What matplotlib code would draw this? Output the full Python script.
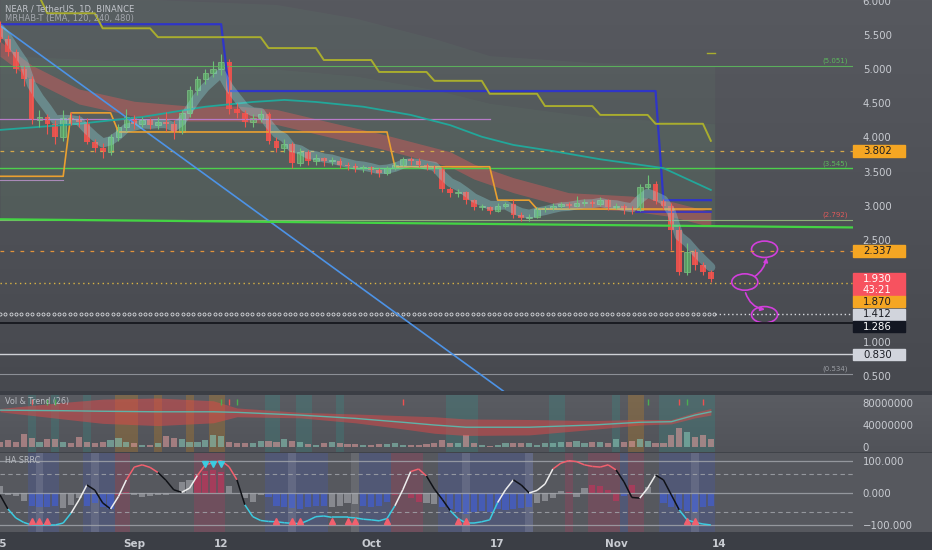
import numpy as np
import matplotlib.pyplot as plt
from matplotlib.patches import Rectangle, Ellipse, FancyArrowPatch
from matplotlib.collections import LineCollection
from matplotlib.transforms import blended_transform_factory

# ---- daily candles, day 0 = Aug 15 ----
first_open = 5.62
closes = [5.45, 5.25, 5.00, 4.85, 4.26, 4.30, 4.20, 4.00, 4.28, 4.25,
          4.22, 3.93, 3.85, 3.78, 4.00, 4.15, 4.30, 4.20, 4.25, 4.18,
          4.22, 4.20, 4.08, 4.36, 4.70, 4.85, 4.95, 5.00, 5.10, 4.42,
          4.36, 4.22, 4.28, 4.35, 3.95, 3.85, 3.90, 3.62, 3.78, 3.65,
          3.70, 3.65, 3.66, 3.60, 3.58, 3.55, 3.56, 3.52, 3.48, 3.55,
          3.60, 3.68, 3.66, 3.60, 3.56, 3.55, 3.25, 3.18, 3.20, 3.08,
          2.98, 2.98, 2.92, 3.00, 3.02, 2.86, 2.82, 2.84, 2.95, 2.96,
          3.00, 3.02, 3.00, 3.04, 3.05, 3.03, 3.08, 2.98, 3.00, 2.95,
          2.94, 3.28, 3.32, 3.07, 3.00, 2.64, 2.03, 2.32, 2.13, 2.03,
          1.93]
highs = [5.70, 5.50, 5.30, 5.05, 4.90, 4.40, 4.35, 4.25, 4.40, 4.38,
         4.33, 4.28, 3.98, 3.92, 4.05, 4.20, 4.42, 4.33, 4.30, 4.28,
         4.30, 4.38, 4.26, 4.40, 4.75, 4.90, 5.00, 5.12, 5.22, 5.15,
         4.50, 4.40, 4.35, 4.40, 4.38, 4.00, 3.98, 3.94, 3.85, 3.82,
         3.75, 3.72, 3.72, 3.70, 3.64, 3.62, 3.60, 3.58, 3.55, 3.58,
         3.64, 3.72, 3.72, 3.70, 3.63, 3.60, 3.57, 3.28, 3.25, 3.22,
         3.10, 3.03, 3.00, 3.04, 3.06, 3.10, 2.90, 2.88, 2.98, 3.00,
         3.04, 3.06, 3.05, 3.14, 3.10, 3.08, 3.12, 3.10, 3.04, 3.02,
         3.00, 3.32, 3.45, 3.36, 3.10, 3.04, 2.70, 2.45, 2.36, 2.18,
         2.06]
lows = [5.40, 5.20, 4.95, 4.75, 4.20, 4.15, 4.05, 3.90, 3.95, 4.18,
        4.15, 3.90, 3.78, 3.70, 3.74, 3.95, 4.10, 4.12, 4.15, 4.12,
        4.12, 4.10, 3.98, 4.05, 4.30, 4.62, 4.78, 4.88, 4.92, 4.35,
        4.28, 4.15, 4.15, 4.22, 3.90, 3.78, 3.78, 3.55, 3.58, 3.60,
        3.60, 3.58, 3.60, 3.55, 3.52, 3.50, 3.50, 3.46, 3.42, 3.45,
        3.52, 3.58, 3.60, 3.56, 3.52, 3.48, 3.20, 3.12, 3.12, 3.02,
        2.94, 2.93, 2.88, 2.90, 2.96, 2.82, 2.77, 2.78, 2.82, 2.90,
        2.93, 2.97, 2.96, 2.98, 3.00, 2.98, 3.00, 2.94, 2.95, 2.88,
        2.88, 2.92, 3.24, 3.02, 2.95, 2.35, 1.98, 1.98, 2.05, 1.98,
        1.88]
volume_m = [9.7, 12.7, 9.7, 23.6, 15.7, 9.7, 14, 14, 9.7, 8,
            18.8, 9.7, 6.7, 9.7, 12.7, 15.7, 9.7, 6.7, 3.6, 3.6,
            6.7, 20, 15.7, 14, 9.7, 9.7, 12.7, 21.8, 20, 9.7,
            8, 6.7, 8, 11, 11, 9.7, 14, 11.5, 9.7, 5,
            3.6, 6.7, 9.7, 6.7, 5, 5.5, 3.6, 4.5, 5, 5.5,
            6.7, 3.6, 3.6, 3.6, 5, 8, 12.7, 6.7, 6.7, 21.8,
            6.7, 3.6, 2.5, 3.6, 6.7, 6.7, 6.7, 6.7, 3.6, 6.7,
            6.7, 9.7, 9.7, 11.5, 8, 9.7, 8.5, 8, 15, 9.7,
            11, 14, 11.5, 8, 8, 21.8, 34, 26.7, 17.6, 21.8,
            15]
osc = [-6, -50, -78, -92, -100, -100, -100, -100, -94, -63,
       -22, 25, 9, -31, -50, -11, 41, 81, 88, 80,
       64, 40, 10, 2, 15, 55, 88, 95, 101, 82,
       41, -37, -74, -86, -89, -90, -93, -95, -96, -86,
       -74, -72, -76, -76, -76, -78, -82, -84, -87, -80,
       -40, 10, 67, 75, 53, 12, -20, -55, -80, -94,
       -94, -90, -84, -30, 10, 41, 25, 0, 8, 28,
       75, 93, 101, 98, 88, 83, 81, 88, 72, 35,
       -14, -16, 15, 56, 41, -6, -53, -84, -92, -97,
       -100]
hist = [23, -5, -10, -25, -40, -45, -45, -42, -47, -37,
        -15, -40, -30, -45, -50, -5, 2, -5, -12, -10,
        -7, -5, 0, 35, 40, 55, 70, 72, 65, 23,
        0, -15, -28, -5, -12, -40, -45, -48, -50, -45,
        -42, -40, -45, -40, -30, -35, -40, -45, -42, -28,
        -5, 0, -15, -28, -32, -35, -45, -50, -60, -65,
        -60, -55, -60, -50, -52, -50, -48, -45, -30, -25,
        -15, 5, 3, -12, 15, 25, 23, 8, -25, -10,
        25, 0, 20, 0, -32, -45, -50, -55, -60, -45,
        -40]
osc_blue = [(4, 7), (11, 14), (34, 41), (46, 49), (56, 67), (79, 79), (84, 90)]
osc_red = [(15, 16), (25, 28), (50, 53), (72, 72), (75, 78), (80, 81)]
osc_light = [5, 12, 37, 45, 59, 67, 88]
tri_up_days = [4, 5, 6, 35, 37, 38, 42, 44, 45, 49, 58, 59, 87, 88]
tri_down_days = [26, 27, 28]

vol_stripes = [(3.5, 4.5, 't'), (6.5, 7.5, 't'), (10.5, 11.5, 't'), (14.5, 17.5, 'o'),
               (19.5, 20.5, 'o'), (23.5, 24.5, 'o'), (26.5, 28.5, 'o'), (33.5, 35.5, 't'),
               (37.5, 39.5, 't'), (42.5, 43.5, 't'), (56.5, 60.5, 't'), (69.5, 71.5, 't'),
               (77.5, 78.5, 't'), (79.5, 81.5, 'o'), (83.5, 90.5, 't')]
vol_trend_days = [0, 8, 13, 20, 27, 30, 38, 45, 51, 55, 59, 67, 75, 81, 85, 88, 90]
vol_trend = [67, 66, 65, 64, 64, 63, 58, 52, 45, 40, 36, 36, 40, 45, 46, 58, 64]
vol_band = [3, 15, 22, 25, 20, 8, 5, 8, 12, 15, 15, 14, 8, 5, 4, 5, 6]
vol_ticks_green = [6, 7, 28, 30, 82, 87]
vol_ticks_red = [4, 29, 51, 86, 89]

# step lines (start day, level)
blue_start = [0, 29, 84]
blue_level = [5.66, 4.68, 3.08]
olive_start = [0, 6, 13, 20, 34, 41, 48, 55, 62, 69, 76, 83, 90]
olive_level = [6.06, 5.82, 5.60, 5.47, 5.31, 5.135, 4.96, 4.83, 4.64, 4.46, 4.33, 4.20, 3.95]
orange_start = [0, 9, 15, 50, 63, 68]
orange_level = [3.43, 4.36, 4.08, 3.57, 3.08, 2.95]

# slow teal line and red ribbon (read points)
teal_days = [0, 10, 18, 26, 32, 36, 40, 46, 52, 57, 61, 65, 70, 76, 84, 90]
teal_vals = [4.11, 4.20, 4.30, 4.45, 4.52, 4.55, 4.52, 4.45, 4.33, 4.18, 4.01, 3.89, 3.80, 3.68, 3.55, 3.23]
red_days = [0, 4, 10, 17, 24, 30, 35, 43, 48, 53, 57, 60, 65, 72, 80, 85, 90]
red_vals = [5.30, 4.95, 4.60, 4.42, 4.35, 4.35, 4.30, 4.08, 3.95, 3.80, 3.68, 3.50, 3.30, 3.08, 3.03, 2.95, 2.80]

# green cloud above the trend line
cloud_days = [0, 20, 35, 45, 55, 62, 75, 90.5]
cloud_top = [6.02, 6.02, 5.95, 5.75, 5.45, 5.20, 5.10, 5.05]
cloud_mid = [5.20, 5.10, 5.00, 4.90, 4.70, 4.50, 4.30, 4.20]
cloud_bot = [2.80, 2.78, 2.76, 2.75, 2.74, 2.73, 2.72, 2.70]

levels = {'fib_5051': 5.051, 'fib_3545': 3.545, 'fib_2792': 2.792, 'fib_0534': 0.534,
          'res_3802': 3.802, 'res_2337': 2.337, 'sup_1870': 1.870, 'sup_1412': 1.412,
          'sup_1286': 1.286, 'sup_0830': 0.830, 'violet': 4.27}
diag_a, diag_b = (0, 5.64), (50.3, 1.41)
trend_a, trend_b = (0, 2.80), (108, 2.68)

tick_days = [0, 17, 28, 47, 63, 78, 91]
tick_names = ['15', 'Sep', '12', 'Oct', '17', 'Nov', '14']

# ---------------------------------------------------------------
n = len(closes)
days = np.arange(n)
opens = [first_open] + closes[:-1]


def steps(starts, vals):
    out = np.zeros(n)
    for s, v in zip(starts, vals):
        out[s:] = v
    return out


def ema(vals, length, seed):
    k = 2.0 / (length + 1)
    e, out = seed, []
    for v in vals:
        e = e + k * (v - e)
        out.append(e)
    return np.array(out)


def hex_rgb(h):
    h = h.lstrip('#')
    return np.array([int(h[i:i + 2], 16) / 255 for i in (0, 2, 4)])


fig = plt.figure(figsize=(9.32, 5.5), dpi=100)
fig.patch.set_facecolor('#3b3e45')

# background bands
img = np.zeros((550, 1, 3))
for py in range(550):
    if py < 391:
        t = py / 391
        c = hex_rgb('#57595f') * (1 - t) + hex_rgb('#47494f') * t
    elif py < 395:
        c = hex_rgb('#3b3e45')
    elif py < 452:
        t = (py - 395) / 57
        c = hex_rgb('#5a5c62') * (1 - t) + hex_rgb('#515359') * t
    elif py < 453:
        c = hex_rgb('#404349')
    elif py < 532:
        c = hex_rgb('#56585e')
    else:
        c = hex_rgb('#3b3e45')
    img[py, 0] = c
bg = fig.add_axes([0, 0, 1, 1], zorder=-10)
bg.imshow(img, aspect='auto', extent=(0, 1, 0, 1))
bg.axis('off')

XL = (0, 108)
ax = fig.add_axes([0, 1 - 391 / 550, 853 / 932, 391 / 550])
axv = fig.add_axes([0, 1 - 452 / 550, 853 / 932, 57 / 550])
axo = fig.add_axes([0, 1 - 532 / 550, 853 / 932, 79 / 550])
for a in (ax, axv, axo):
    a.set_facecolor('none')
    a.set_xlim(*XL)
    for s in a.spines.values():
        s.set_visible(False)
    a.yaxis.tick_right()
    a.tick_params(axis='y', length=0, pad=7, labelsize=7.3, labelcolor='#c9ccd2')
    a.tick_params(axis='x', length=0)

# ---------------- main pane ----------------
ax.set_ylim(0.282, 6.015)
ax.set_xticks([])
yt = np.arange(0.5, 6.01, 0.5)
ax.set_yticks(yt)
# 2.000 and 1.500 sit under the price boxes
ax.set_yticklabels(['' if v in (1.5, 2.0) else '%.3f' % v for v in yt])

ax.fill_between(cloud_days, cloud_bot, cloud_top, color='#7ccf8c', alpha=0.05, lw=0, zorder=0)
ax.fill_between(cloud_days, cloud_bot, cloud_mid, color='#7ccf8c', alpha=0.05, lw=0, zorder=0)

# horizontal levels
ax.axhline(levels['fib_5051'], color='#5cb85c', lw=0.8, alpha=0.9)
ax.axhline(levels['fib_3545'], color='#4cd04c', lw=1.0)
ax.axhline(levels['fib_2792'], color='#8fb07a', lw=0.8)
ax.axhline(levels['fib_0534'], color='#8c8f96', lw=0.8)
ax.axhline(levels['res_3802'], color='#d4a84a', lw=0.9, ls=(0, (3, 5)))
ax.axhline(levels['res_2337'], color='#e3933a', lw=0.9, ls=(0, (3, 5)))
ax.axhline(levels['sup_1870'], color='#d9b444', lw=1.0, ls=(0, (1, 2.5)))
ax.axhline(levels['sup_1286'], color='#15171d', lw=1.3)
ax.axhline(levels['sup_0830'], color='#cfd1d6', lw=1.0)
ring_x = np.arange(0, 90.5, 0.68)
ax.plot(ring_x, np.full(len(ring_x), levels['sup_1412']),
        ls='none', marker='o', ms=2.2, mfc='none', mec='#d6d8dd', mew=0.6)
ax.plot([90.5, 108], [levels['sup_1412']] * 2, color='#d6d8dd', lw=1.0, ls=(0, (1, 2)))
ax.plot([0, 62], [levels['violet']] * 2, color='#b77ac8', lw=0.9)
ax.plot([0, 8], [3.37, 3.37], color='#a98ab8', lw=0.8)
ax.plot([80.5, 90], [2.90, 2.90], color='#3232c8', lw=1.2)

for val, txt, col in [(levels['fib_5051'], '(5.051)', '#5cb85c'), (levels['fib_3545'], '(3.545)', '#5cb85c'),
                      (levels['fib_2792'], '(2.792)', '#e05a5a'), (levels['fib_0534'], '(0.534)', '#9a9da3')]:
    ax.text(107.3, val + 0.07, txt, fontsize=5, color=col, ha='right', va='center')

ax.axline(diag_a, diag_b, color='#4d93e6', lw=1.2)
ax.axline(trend_a, trend_b, color='#44d444', lw=1.6)

ax.plot(days, steps(blue_start, blue_level), color='#2f35c8', lw=1.6)
ax.plot(days, steps(olive_start, olive_level), color='#a9ad2e', lw=1.4)
ax.plot(days, steps(orange_start, orange_level), color='#eaa030', lw=1.2)
ax.plot([89.5, 90.5], [5.24, 5.24], color='#a9ad2e', lw=1.0)
ax.plot(teal_days, teal_vals, color='#22a79a', lw=1.3)

# ribbons
ax.fill_between(red_days, np.array(red_vals) - 0.11, np.array(red_vals) + 0.11,
                color='#e85a5a', alpha=0.4, lw=0)
ax.plot(days, ema(closes, 4, 5.7), color='#8fd9e0', lw=6.5, alpha=0.35, solid_capstyle='round')

# candles
up = np.array(closes) >= np.array(opens)
body_lo = np.minimum(opens, closes)
body_h = np.maximum(np.abs(np.array(closes) - np.array(opens)), 0.012)
ax.vlines(days[up], np.array(lows)[up], np.array(highs)[up], color='#6cc177', lw=0.8)
ax.vlines(days[~up], np.array(lows)[~up], np.array(highs)[~up], color='#f0574f', lw=0.8)
ax.bar(days[up], body_h[up], bottom=body_lo[up], width=0.72, color='#63b96e', alpha=0.7,
       edgecolor='#86d08e', lw=0.6)
ax.bar(days[~up], body_h[~up], bottom=body_lo[~up], width=0.72, color='#f2524d', alpha=0.92, lw=0)

# magenta drawings
mg = '#d23fdc'
for cx, cy in [(96.8, 2.36), (94.3, 1.88), (96.8, 1.40)]:
    ax.add_patch(Ellipse((cx, cy), 3.3, 0.24, fill=False, ec=mg, lw=1.2))
ax.add_patch(FancyArrowPatch((95.3, 1.94), (97.1, 2.28), connectionstyle='arc3,rad=0.25',
                             arrowstyle='-|>', mutation_scale=6, color=mg, lw=1.2))
ax.add_patch(FancyArrowPatch((94.3, 1.76), (97.2, 1.47), connectionstyle='arc3,rad=0.35',
                             arrowstyle='-|>', mutation_scale=6, color=mg, lw=1.2))

# right-side price boxes
tr = blended_transform_factory(ax.transAxes, ax.transData)
bw = 52 / 853
pp = 1 / 68.2


def box(center, lines, face, fg):
    h = (11.5 + 11.5 * (len(lines) - 1)) * pp
    top = center + 5.75 * pp
    ax.add_patch(Rectangle((1.0, top - h), bw, h, transform=tr, color=face, clip_on=False, zorder=5))
    for i, t in enumerate(lines):
        ax.text(1.0 + 10 / 853, center - i * 11.5 * pp, t, transform=tr, fontsize=7.3, color=fg,
                va='center', ha='left', clip_on=False, zorder=6)


box(3.802, ['3.802'], '#f5a623', '#1b1d24')
box(2.337, ['2.337'], '#f5a623', '#1b1d24')
box(1.930, ['1.930', '43:21'], '#f7525f', '#ffffff')
box(1.930 - 23 * pp, ['1.870'], '#f5a623', '#1b1d24')
box(1.412 - 0.5 * pp, ['1.412'], '#d1d4dc', '#1b1d24')
box(1.286 - 4 * pp, ['1.286'], '#131722', '#ffffff')
box(0.830 - 1 * pp, ['0.830'], '#d1d4dc', '#1b1d24')

ax.text(0.006, 0.987, 'NEAR / TetherUS, 1D, BINANCE', transform=ax.transAxes, fontsize=6,
        color='#c3c6cc', va='top')
ax.text(0.006, 0.963, 'MRHAB-T (EMA, 120, 240, 480)', transform=ax.transAxes, fontsize=6,
        color='#a3a6ad', va='top')

# ---------------- volume pane ----------------
axv.set_ylim(-9, 94.5)
axv.set_xticks([])
axv.set_yticks([0, 40, 80])
axv.set_yticklabels(['0', '40000000', '80000000'])
for a0, a1, k in vol_stripes:
    axv.axvspan(a0, a1, color='#26a69a' if k == 't' else '#ff9800', alpha=0.2, lw=0)
vcol = ['#86c5b5' if u else '#d99a9a' for u in up]
axv.bar(days, volume_m, width=0.78, color=vcol, alpha=0.6)
vt = np.array(vol_trend)
vb = np.array(vol_band)
axv.fill_between(vol_trend_days, vt - vb, vt + vb, color='#e04848', alpha=0.5, lw=0)
axv.plot(vol_trend_days, vol_trend, color='#5fb3a8', lw=1.0)
axv.plot(vol_ticks_green, [82] * len(vol_ticks_green), ls='none', marker='|', ms=4, color='#4caf50')
axv.plot(vol_ticks_red, [82] * len(vol_ticks_red), ls='none', marker='|', ms=4, color='#f05050')
axv.text(0.006, 0.88, 'Vol & Trend (26)', transform=axv.transAxes, fontsize=5.8, color='#b9bcc2', va='center')

# ---------------- oscillator pane ----------------
axo.set_ylim(-122, 125)
axo.set_yticks([-100, 0, 100])
axo.set_yticklabels(['\u2212100.000', '0.000', '100.000'])
axo.set_xticks(tick_days)
axo.set_xticklabels(tick_names, fontsize=7.5, color='#c9ccd2', fontweight='bold')
axo.tick_params(axis='x', pad=5)

state = ['n'] * n
for a0, a1 in osc_blue:
    for d in range(a0, a1 + 1):
        state[d] = 'b'
for a0, a1 in osc_red:
    for d in range(a0, a1 + 1):
        state[d] = 'r'
for d in range(n):
    if state[d] == 'b':
        axo.axvspan(d - 0.5, d + 0.5, color='#3d5bd6', alpha=0.2, lw=0)
    elif state[d] == 'r':
        axo.axvspan(d - 0.5, d + 0.5, color='#c8325a', alpha=0.22, lw=0)
for d in osc_light:
    axo.axvspan(d - 0.5, d + 0.5, color='#dfe2e6', alpha=0.13, lw=0)

for yv in (100, 0, -100):
    axo.axhline(yv, color='#a4a7ad', lw=0.9, alpha=0.8)
for yv in (60, -60):
    axo.axhline(yv, color='#a4a7ad', lw=0.8, alpha=0.8, ls=(0, (4, 3)))

hcol = [{'b': '#3f5fe0', 'r': '#c8325a', 'n': '#a9abb0'}[s] for s in state]
axo.bar(days, hist, width=0.78, color=hcol, alpha=0.6)

segs, cols = [], []
for i in range(n - 1):
    a, b = osc[i], osc[i + 1]
    mid = (a + b) / 2
    if mid > 55:
        c = '#f2606e'
    elif mid < -55:
        c = '#3ccbe0'
    elif b >= a:
        c = '#eeeeee'
    else:
        c = '#101217'
    segs.append([(i, a), (i + 1, b)])
    cols.append(c)
axo.add_collection(LineCollection(segs, colors=cols, linewidths=1.1))
axo.plot(tri_up_days, [-88] * len(tri_up_days), ls='none', marker='^', ms=4, color='#f2606e')
axo.plot(tri_down_days, [92] * len(tri_down_days), ls='none', marker='v', ms=4, color='#3ccbe0')
axo.text(0.006, 0.9, 'HA SRRC', transform=axo.transAxes, fontsize=5.8, color='#b9bcc2', va='center')

fig.savefig('out.png', dpi=100, facecolor=fig.get_facecolor())
